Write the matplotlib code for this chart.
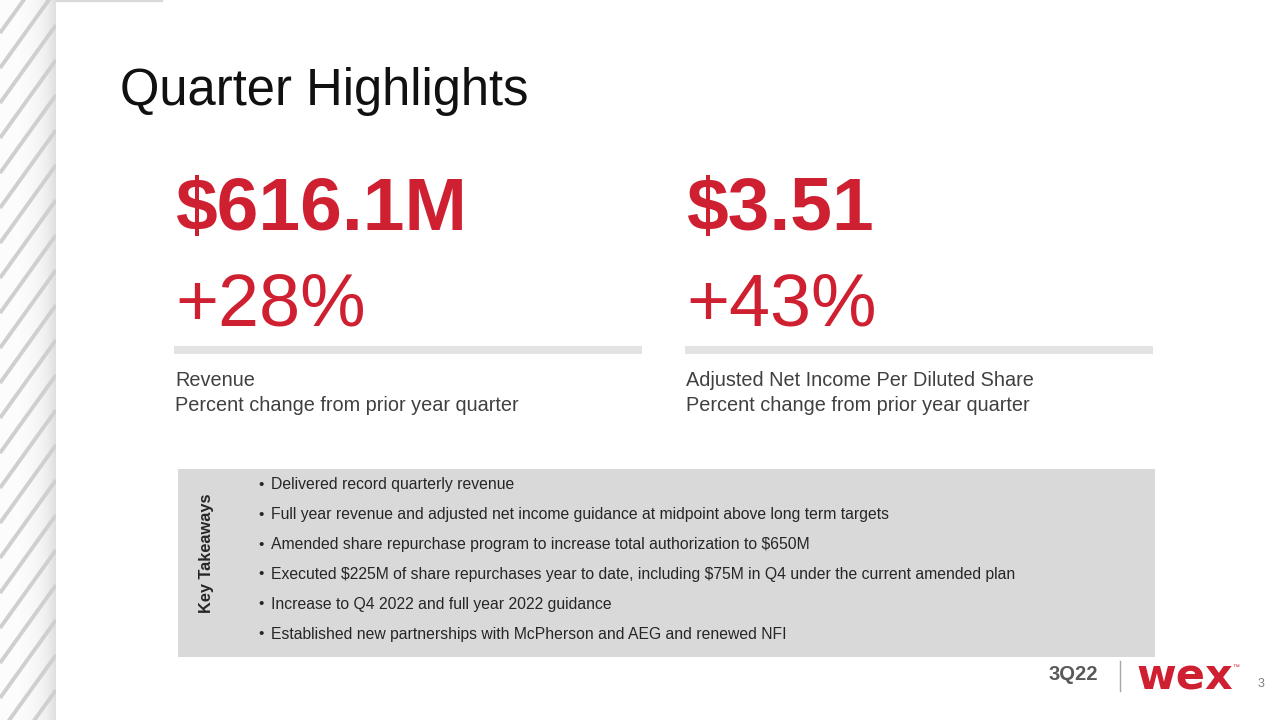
import numpy as np
import matplotlib
matplotlib.use("Agg")
import matplotlib.pyplot as plt
from matplotlib.patches import Rectangle

# Slide content
title = "Quarter Highlights"
headline_values = ["$616.1M", "$3.51"]
headline_changes = ["+28%", "+43%"]
metric_names = ["Revenue", "Adjusted Net Income Per Diluted Share"]
metric_notes = ["Percent change from prior year quarter", "Percent change from prior year quarter"]
takeaways = [
    "Delivered record quarterly revenue",
    "Full year revenue and adjusted net income guidance at midpoint above long term targets",
    "Amended share repurchase program to increase total authorization to $650M",
    "Executed $225M of share repurchases year to date, including $75M in Q4 under the current amended plan",
    "Increase to Q4 2022 and full year 2022 guidance",
    "Established new partnerships with McPherson and AEG and renewed NFI",
]
period = "3Q22"
page = "3"

RED = "#cf2031"
plt.rcParams["font.family"] = ["Liberation Sans", "DejaVu Sans"]
plt.rcParams["text.parse_math"] = False

fig = plt.figure(figsize=(12.8, 7.2), dpi=100)
ax = fig.add_axes([0, 0, 1, 1])
ax.set_xlim(0, 1280)
ax.set_ylim(720, 0)
ax.axis("off")

# left striped panel with shading toward its right edge
grad = np.linspace(0, 1, 60) ** 3
grad = np.tile(grad, (2, 1))
ax.imshow(grad, extent=(0, 56, 720, 0), cmap="Greys", vmin=-0.1, vmax=5.0,
          aspect="auto", zorder=0)
clip = Rectangle((0, 0), 56, 720, transform=ax.transData)
for y0 in np.arange(-80, 840, 35):
    ln, = ax.plot([0, 56], [y0 + 78, y0], color="#cfcfcf", lw=2.8,
                  solid_capstyle="butt", zorder=1)
    ln.set_clip_path(clip)
ax.plot([57, 162], [0.8, 0.8], color="#d9d9d9", lw=1.6, zorder=2)

# title
ax.text(120, 105, title, fontsize=36.5, color="#111111", va="baseline", ha="left")

# headline metrics
cols = [175, 686]
for i, x in enumerate(cols):
    ax.text(x, 230, headline_values[i], fontsize=54, fontweight="bold", color=RED,
            va="baseline", ha="left")
    ax.text(x, 325, headline_changes[i], fontsize=53, color=RED,
            va="baseline", ha="left")
    ax.add_patch(Rectangle((x - 1, 346), 468, 8, color="#e3e3e3", lw=0))
    ax.text(x, 386, metric_names[i], fontsize=14.3, color="#404040",
            va="baseline", ha="left")
    ax.text(x, 411, metric_notes[i], fontsize=14.3, color="#404040",
            va="baseline", ha="left")

# key takeaways box
ax.add_patch(Rectangle((178, 469), 977, 188, color="#d9d9d9", lw=0))
ax.text(206, 553, "Key Takeaways", fontsize=11.8, fontweight="bold", color="#262626",
        rotation=90, ha="center", va="center")
for j, item in enumerate(takeaways):
    yy = 485 + j * 29.8
    ax.text(258, yy, "\u2022", fontsize=11, color="#262626", ha="left", va="center")
    ax.text(271, yy, item, fontsize=11.3, color="#262626", ha="left", va="center")

# footer
ax.text(1098, 675, period, fontsize=14.5, fontweight="bold", color="#595959",
        ha="right", va="center")
ax.plot([1120, 1120], [661, 691], color="#a6a6a6", lw=1)
ax.text(1136, 689, "wex", fontsize=31, fontweight="bold", color=RED,
        family="DejaVu Sans", ha="left", va="baseline")
ax.text(1232, 664, "\u2122", fontsize=5, color=RED, ha="left", va="top")
ax.text(1258, 684, page, fontsize=9, color="#7f7f7f", ha="left", va="center")

fig.savefig("out.png", dpi=100)
